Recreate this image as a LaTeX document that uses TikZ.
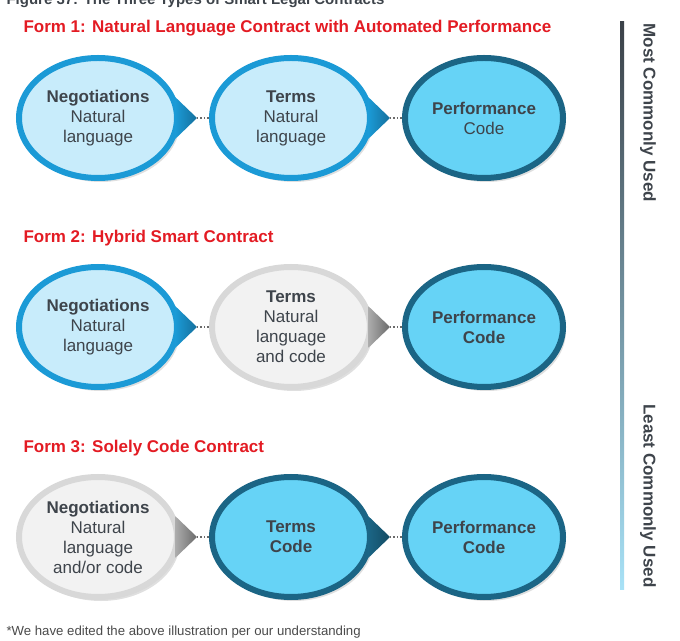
\documentclass[tikz,border=0pt]{standalone}
\usepackage{fontspec}
\setmainfont{Liberation Sans}
\usetikzlibrary{shapes.geometric,shadows}
\definecolor{nlfill}{HTML}{C8ECFB}
\definecolor{nlborder}{HTML}{1B9AD6}
\definecolor{nlpoint}{HTML}{146F9C}
\definecolor{cdfill}{HTML}{66D3F6}
\definecolor{cdborder}{HTML}{1B6585}
\definecolor{cdpoint}{HTML}{134B63}
\definecolor{gyfill}{HTML}{F2F2F2}
\definecolor{gyborder}{HTML}{D8D8D8}
\definecolor{gypoint}{HTML}{6A6A6A}
\definecolor{formred}{HTML}{E31B23}
\definecolor{txtgray}{HTML}{3E444B}
\definecolor{notegray}{HTML}{4A4A4A}
\definecolor{bartop}{HTML}{3B4148}
\definecolor{barmid}{HTML}{6CB4D4}
\definecolor{barbot}{HTML}{A8E2F7}

\begin{document}
\begin{tikzpicture}[x=1pt,y=1pt,
    bubble/.style={ellipse,minimum width=158pt,minimum height=120pt,line width=6pt,
      align=center,font=\fontsize{17}{20}\selectfont,text=txtgray,inner sep=1pt,
      drop shadow={opacity=0.25,shadow xshift=3pt,shadow yshift=-4pt}},
    nlbubble/.style={bubble,draw=nlborder,fill=nlfill},
    cdbubble/.style={bubble,draw=cdborder,fill=cdfill},
    gybubble/.style={bubble,draw=gyborder,fill=gyfill},
    formtitle/.style={anchor=base west,text=formred,font=\fontsize{17}{20}\selectfont\bfseries},
    sidelabel/.style={rotate=-90,text=txtgray,font=\fontsize{17}{20}\selectfont\bfseries},
    link/.style={dotted,line width=1.4pt,draw=gypoint},
    node distance=193pt]
   \useasboundingbox (0,0) rectangle (680,640);

   \node[anchor=base west,text=txtgray,font=\fontsize{15}{18}\selectfont\bfseries,name=fig] at (3,635) {Figure 37: The Three Types of Smart Legal Contracts};

   \node[formtitle,name=form1] at (20,607) {Form 1: Natural Language Contract with Automated Performance};
   \node[nlbubble,name=neg1] at (98,522) {\textbf{Negotiations}\\Natural\\language};
   \node[nlbubble,name=terms1,right of=neg1] {\textbf{Terms}\\Natural\\language};
   \node[cdbubble,name=perf1,right of=terms1] {\textbf{Performance}\\Code};

   \node[formtitle,name=form2] at (20,397) {Form 2: Hybrid Smart Contract};
   \node[nlbubble,name=neg2,below of=neg1,node distance=209pt] {\textbf{Negotiations}\\Natural\\language};
   \node[gybubble,name=terms2,right of=neg2] {\textbf{Terms}\\Natural\\language\\and code};
   \node[cdbubble,name=perf2,right of=terms2] {\textbf{Performance}\\\textbf{Code}};

   \node[formtitle,name=form3] at (20,187) {Form 3: Solely Code Contract};
   \node[gybubble,name=neg3,below of=neg2,node distance=210pt] {\textbf{Negotiations}\\Natural\\language\\and/or code};
   \node[cdbubble,name=terms3,right of=neg3] {\textbf{Terms}\\\textbf{Code}};
   \node[cdbubble,name=perf3,right of=terms3] {\textbf{Performance}\\\textbf{Code}};

   \coordinate[right of=neg1,node distance=99pt] (tipa1);
   \coordinate[right of=terms1,node distance=99pt] (tipb1);
   \coordinate[right of=neg2,node distance=99pt] (tipa2);
   \coordinate[right of=terms2,node distance=99pt] (tipb2);
   \coordinate[right of=neg3,node distance=99pt] (tipa3);
   \coordinate[right of=terms3,node distance=99pt] (tipb3);

   \shade[left color=nlborder,right color=nlpoint] (neg1.15) -- (tipa1) -- (neg1.-15) -- cycle;
   \shade[left color=nlborder,right color=nlpoint] (terms1.15) -- (tipb1) -- (terms1.-15) -- cycle;
   \shade[left color=nlborder,right color=nlpoint] (neg2.15) -- (tipa2) -- (neg2.-15) -- cycle;
   \shade[left color=gyborder!60!gypoint,right color=gypoint] (terms2.15) -- (tipb2) -- (terms2.-15) -- cycle;
   \shade[left color=gyborder!60!gypoint,right color=gypoint] (neg3.15) -- (tipa3) -- (neg3.-15) -- cycle;
   \shade[left color=cdborder,right color=cdpoint] (terms3.15) -- (tipb3) -- (terms3.-15) -- cycle;

   \path[link]
      (tipa1) edge (terms1.west)
      (tipb1) edge (perf1.west)
      (tipa2) edge (terms2.west)
      (tipb2) edge (perf2.west)
      (tipa3) edge (terms3.west)
      (tipb3) edge (perf3.west);

   \shade[top color=bartop,middle color=barmid,bottom color=barbot] (620,618) rectangle (624,50);
   \node[sidelabel,anchor=west,name=most] at (648,620) {Most Commonly Used};
   \node[sidelabel,anchor=east,name=least] at (648,49) {Least Commonly Used};

   \node[anchor=base west,text=notegray,font=\fontsize{13.2}{16}\selectfont,name=note] at (3,5) {*We have edited the above illustration per our understanding};
\end{tikzpicture}
\end{document}
